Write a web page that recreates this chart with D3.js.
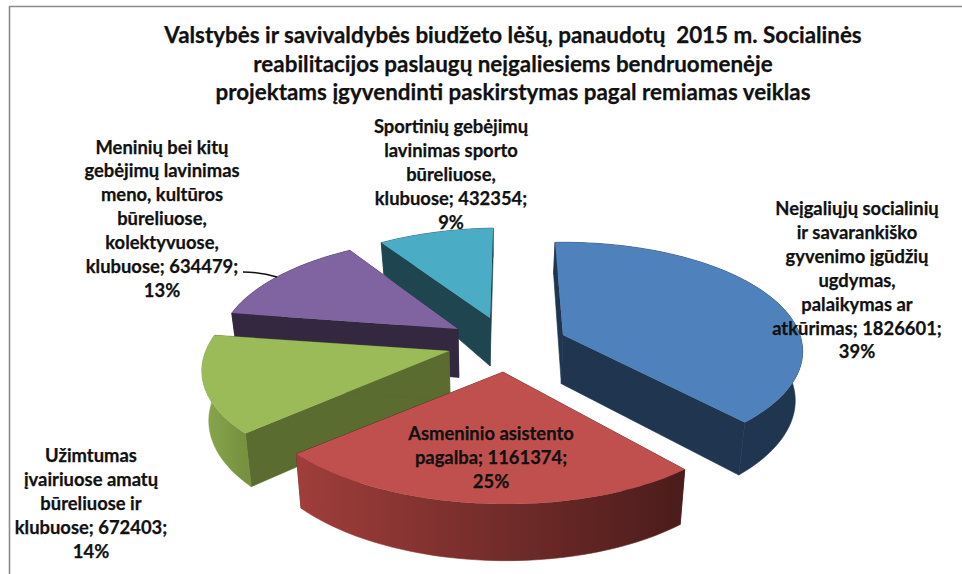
<!DOCTYPE html>
<html>
<head>
<meta charset="utf-8">
<script src="https://cdn.jsdelivr.net/npm/d3@7"></script>
<style>
    html, body { margin: 0; padding: 0; background: #fff; }
    svg { display: block; }
    text { font-family: Lato, "Open Sans", sans-serif; font-weight: bold; fill: #111; stroke: #111; stroke-width: 0.25px; text-anchor: middle; white-space: pre; }
</style>
</head>
<body>
<svg id="chart" width="962" height="574"></svg>
<script>
// values
const titleLines = [
    'Valstybės ir savivaldybės biudžeto lėšų, panaudotų  2015 m. Socialinės',
    'reabilitacijos paslaugų neįgaliesiems bendruomenėje',
    'projektams įgyvendinti paskirstymas pagal remiamas veiklas'
];
const nameLines = [
    ['Neįgaliųjų socialinių', 'ir savarankiško', 'gyvenimo įgūdžių', 'ugdymas,', 'palaikymas ar', 'atkūrimas'],
    ['Asmeninio asistento', 'pagalba'],
    ['Užimtumas', 'įvairiuose amatų', 'būreliuose ir', 'klubuose'],
    ['Meninių bei kitų', 'gebėjimų lavinimas', 'meno, kultūros', 'būreliuose,', 'kolektyvuose,', 'klubuose'],
    ['Sportinių gebėjimų', 'lavinimas sporto', 'būreliuose,', 'klubuose']
];
const values = [1826601, 1161374, 672403, 634479, 432354];
const percents = ['39%', '25%', '14%', '13%', '9%'];

// look of each slice
const topColors = ['#4f81bd', '#c0504d', '#9bbb59', '#8064a2', '#4bacc6'];
const wallColors = ['#1f3550', '#4f1f1e', '#5b6c30', '#33283f', '#1f4650'];
const arcGradients = [['#1f3550', '#1f3550'], ['#a03e3b', '#4a1c1b'], ['#8aa84f', '#76913f'], ['#33283f', '#33283f'], ['#1f4650', '#1f4650']];

// where each exploded slice has its tip, and where its label sits
const tipX = [563, 503, 449, 458, 490];
const tipY = [335, 372, 351, 329, 318];
const labelX = [857, 491, 91, 162, 451];
const labelY = [215, 440, 462, 153.5, 133];
const radiusFactor = [1, 1.05, 1.02, 0.985, 0.97];
const shearX = [0, -0.1, -0.134, -0.15, -0.12];
const shearY = [0, 0.03, 0.015, 0.018, 0];

const R = 237, tilt = 0.45, persp = 0.15;
const vanishX = 493, wallLean = 0.024;
const lineGap = 23.9;

// wall height grows towards the viewer
const wallHeight = d3.scaleLinear().domain([230, 318, 372, 510]).range([29, 48, 50, 57]);

const svg = d3.select('#chart');
const defs = svg.append('defs');

svg.append('path')
    .attr('d', 'M9.5,574V6.5H962')
    .attr('fill', 'none')
    .attr('stroke', '#8a8a8a')
    .attr('stroke-width', 1.6);

const arcs = d3.pie().sort(null)
    .startAngle(-2.2 * Math.PI / 180)
    .endAngle((360 - 2.2) * Math.PI / 180)(values);

function project(i, angle) {
    var u = Math.sin(angle), v = -Math.cos(angle);
    var s = 1 / (1 - persp * v);
    var r = R * radiusFactor[i];
    var x = r * u * s, y = r * tilt * v * s;
    return [tipX[i] + x + shearX[i] * y, tipY[i] + y + shearY[i] * x];
}

function lower(p) {
    return [p[0] + (vanishX - p[0]) * wallLean, p[1] + wallHeight(p[1])];
}

function rimPoints(i) {
    var n = 60, pts = [];
    for (var k = 0; k <= n; k++) {
        pts.push(project(i, arcs[i].startAngle + (arcs[i].endAngle - arcs[i].startAngle) * k / n));
    }
    return pts;
}

const line = d3.line();

function drawSlice(i) {
    var g = svg.append('g').attr('id', 'slice' + i);
    var rim = rimPoints(i);
    var tip = [tipX[i], tipY[i]];
    var first = rim[0], last = rim[rim.length - 1];

    // flat cut faces
    [first, last].forEach(function(p) {
        g.append('path')
            .attr('d', line([tip, p, lower(p), lower(tip)]) + 'Z')
            .attr('fill', wallColors[i])
            .attr('stroke', wallColors[i])
            .attr('stroke-width', 0.6);
    });

    // curved outer wall
    var xs = rim.map(function(p) { return p[0]; });
    var gradId = 'wall' + i;
    var grad = defs.append('linearGradient')
        .attr('id', gradId)
        .attr('gradientUnits', 'userSpaceOnUse')
        .attr('x1', d3.min(xs)).attr('x2', d3.max(xs))
        .attr('y1', 0).attr('y2', 0);
    grad.append('stop').attr('offset', 0).attr('stop-color', arcGradients[i][0]);
    grad.append('stop').attr('offset', 1).attr('stop-color', arcGradients[i][1]);
    g.append('path')
        .attr('d', line(rim.concat(rim.map(lower).reverse())) + 'Z')
        .attr('fill', 'url(#' + gradId + ')')
        .attr('stroke', 'url(#' + gradId + ')')
        .attr('stroke-width', 0.6);

    // top surface
    g.append('path')
        .attr('d', line([tip].concat(rim)) + 'Z')
        .attr('fill', topColors[i]);
}

// back slices first
[4, 3, 2, 0, 1].forEach(drawSlice);

svg.append('path')
    .attr('d', 'M243,272Q262,272 277,277')
    .attr('fill', 'none')
    .attr('stroke', '#111')
    .attr('stroke-width', 1.5);

const title = svg.append('g');
titleLines.forEach(function(t, i) {
    title.append('text')
        .attr('x', 513)
        .attr('y', 43 + i * 28.5)
        .style('font-size', '22.4px')
        .text(t);
});

nameLines.forEach(function(names, i) {
    var lines = names.slice();
    lines[lines.length - 1] += '; ' + values[i] + ';';
    lines.push(percents[i]);
    lines.forEach(function(t, k) {
        svg.append('text')
            .attr('x', labelX[i])
            .attr('y', labelY[i] + k * lineGap)
            .style('font-size', '18.4px')
            .text(t);
    });
});
</script>
</body>
</html>
